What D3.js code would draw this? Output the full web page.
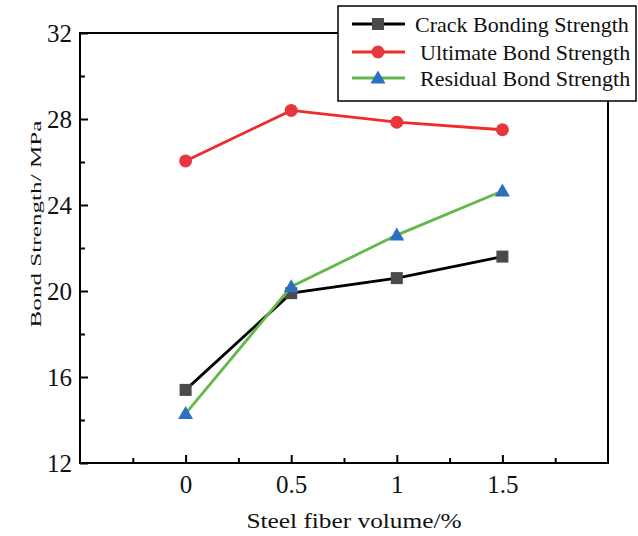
<!DOCTYPE html>
<html><head><meta charset="utf-8">
<script src="https://cdn.jsdelivr.net/npm/d3@7"></script>
<style>body{margin:0;background:#fff}svg{display:block}text{font-family:"Liberation Serif","Times New Roman",serif}</style>
</head><body>
<svg id="c" width="638" height="536"></svg>
<script>
const xValues = [0, 0.5, 1, 1.5];
const xTickLabels = ["0", "0.5", "1", "1.5"];
const yTickValues = [12, 16, 20, 24, 28, 32];
const crackBonding = [15.4, 19.9, 20.6, 21.6];
const ultimateBond = [26.05, 28.4, 27.85, 27.5];
const residualBond = [14.3, 20.2, 22.6, 24.65];
const seriesNames = ["Crack Bonding Strength", "Ultimate Bond Strength", "Residual Bond Strength"];

const svg = d3.select("#c");
const L = 80, R = 608, T = 33, B = 463;
const x = d3.scaleLinear().domain([-0.5, 2]).range([L, R]);
const y = d3.scaleLinear().domain([12, 32]).range([B, T]);
const FONT = '"Liberation Serif","Times New Roman",serif';

svg.append("rect").attr("x", L).attr("y", T).attr("width", R - L).attr("height", B - T)
  .attr("fill", "none").attr("stroke", "#000").attr("stroke-width", 2);

const xAxis = d3.axisBottom(x).tickValues(xValues).tickFormat((d, i) => xTickLabels[i]).tickSize(-8).tickPadding(0);
const gx = svg.append("g").attr("transform", `translate(0,${B})`).call(xAxis);
gx.selectAll("text").attr("dy", null).attr("y", 30);
const xMinor = d3.axisBottom(x).tickValues([-0.25, 0.25, 0.75, 1.25, 1.75]).tickSize(-5).tickFormat("");
const gxm = svg.append("g").attr("transform", `translate(0,${B})`).call(xMinor);
const yAxis = d3.axisLeft(y).tickValues(yTickValues).tickSize(-8).tickPadding(0);
const gy = svg.append("g").attr("transform", `translate(${L},0)`).call(yAxis);
gy.selectAll("text").attr("x", -8).attr("dy", "0.34em");
const yMinor = d3.axisLeft(y).tickValues([14, 18, 22, 26, 30]).tickSize(-5).tickFormat("");
const gym = svg.append("g").attr("transform", `translate(${L},0)`).call(yMinor);
[gx, gxm, gy, gym].forEach(g => {
  g.attr("font-family", FONT);
  g.select(".domain").remove();
  g.selectAll(".tick line").attr("stroke", "#000").attr("stroke-width", 2);
  g.selectAll("text").attr("font-size", 25).attr("fill", "#111");
});

svg.append("text").attr("x", 354).attr("y", 528).attr("text-anchor", "middle").attr("font-size", 22)
  .attr("textLength", 215).attr("lengthAdjust", "spacingAndGlyphs").attr("fill", "#111").text("Steel fiber volume/%");
svg.append("text").attr("transform", "translate(41,224) rotate(-90)").attr("text-anchor", "middle").attr("font-size", 15)
  .attr("textLength", 207).attr("lengthAdjust", "spacingAndGlyphs").attr("fill", "#111").text("Bond Strength/ MPa");

const line = d3.line().x((d, i) => x(xValues[i])).y(d => y(d));
const series = [
  {vals: crackBonding, lc: "#000000", mc: "#4a4a4a", m: "square"},
  {vals: ultimateBond, lc: "#f02a2a", mc: "#e8363e", m: "circle"},
  {vals: residualBond, lc: "#62b848", mc: "#2e6ec0", m: "triangle"}
];
function marker(g, type, cx, cy, color) {
  if (type === "square") g.append("rect").attr("x", cx - 6).attr("y", cy - 6).attr("width", 12).attr("height", 12).attr("fill", color);
  else if (type === "circle") g.append("circle").attr("cx", cx).attr("cy", cy).attr("r", 6.5).attr("fill", color);
  else g.append("path").attr("d", `M${cx},${cy - 7.5}L${cx + 7.5},${cy + 5.5}L${cx - 7.5},${cy + 5.5}Z`).attr("fill", color);
}
series.forEach(s => {
  svg.append("path").datum(s.vals).attr("d", line).attr("fill", "none").attr("stroke", s.lc).attr("stroke-width", 2.8);
  const g = svg.append("g");
  s.vals.forEach((v, i) => marker(g, s.m, x(xValues[i]), y(v), s.mc));
});

const lg = svg.append("g");
lg.append("rect").attr("x", 338).attr("y", 6).attr("width", 298).attr("height", 95).attr("fill", "#fff").attr("stroke", "#000").attr("stroke-width", 1.5);
const rowsY = [24, 52, 78];
const textX = [415, 420, 420];
series.forEach((s, i) => {
  lg.append("line").attr("x1", 352).attr("x2", 405).attr("y1", rowsY[i]).attr("y2", rowsY[i]).attr("stroke", s.lc).attr("stroke-width", 2.8);
  marker(lg, s.m, 378, rowsY[i], s.mc);
  lg.append("text").attr("x", textX[i]).attr("y", rowsY[i] + 8).attr("font-size", 22).attr("fill", "#111").text(seriesNames[i]);
});
</script>
</body></html>
